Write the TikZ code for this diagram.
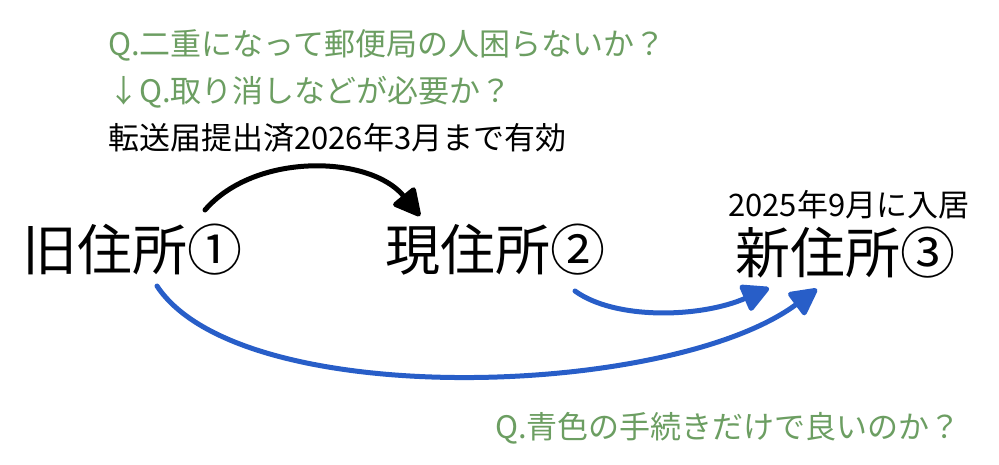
\documentclass[tikz,border=0pt]{standalone}
\usepackage{fontspec}
\setmainfont{Noto Sans CJK JP}
\usetikzlibrary{arrows.meta}
\definecolor{qgreen}{RGB}{108,158,98}
\definecolor{flowblue}{RGB}{40,94,200}
\tikzset{
  bigtext/.style={inner sep=0pt, anchor=west, font=\fontsize{55}{55}\selectfont},
  smalltext/.style={inner sep=0pt, anchor=west, font=\fontsize{31}{31}\selectfont},
  question/.style={smalltext, text=qgreen},
  flow/.style={line width=5pt, line cap=round, -{Triangle[length=30pt,width=30pt,round]}},
}
\begin{document}
\begin{tikzpicture}[x=1pt,y=-1pt]
\useasboundingbox (0,0) rectangle (999,464);
\node[question] (q1) at (108,45) {Q.二重になって郵便局の人困らないか？};
\node[question] (q2) at (108,92) {↓Q.取り消しなどが必要か？};
\node[smalltext] (note) at (108,138) {転送届提出済2026年3月まで有効};
\node[bigtext] (old) at (22,250) {旧住所①};
\node[bigtext] (cur) at (385,250) {現住所②};
\node[bigtext] (new) at (735,253) {新住所③};
\node[smalltext] (move) at (728,205) {2025年9月に入居};
\node[question] (q3) at (495,428) {Q.青色の手続きだけで良いのか？};
\coordinate (a1s) at (205,210);
\coordinate (a1e) at (420,216);
\coordinate (a2s) at (575,291);
\coordinate (a2e) at (769,288);
\coordinate (a3s) at (157,286);
\coordinate (a3e) at (817,289);
\draw[flow, draw=black] (a1s) .. controls (255,152) and (370,155) .. (a1e);
\draw[flow, draw=flowblue] (a2s) .. controls (615,320) and (700,318) .. (a2e);
\draw[flow, draw=flowblue] (a3s) .. controls (240,412) and (670,398) .. (a3e);
\end{tikzpicture}
\end{document}
